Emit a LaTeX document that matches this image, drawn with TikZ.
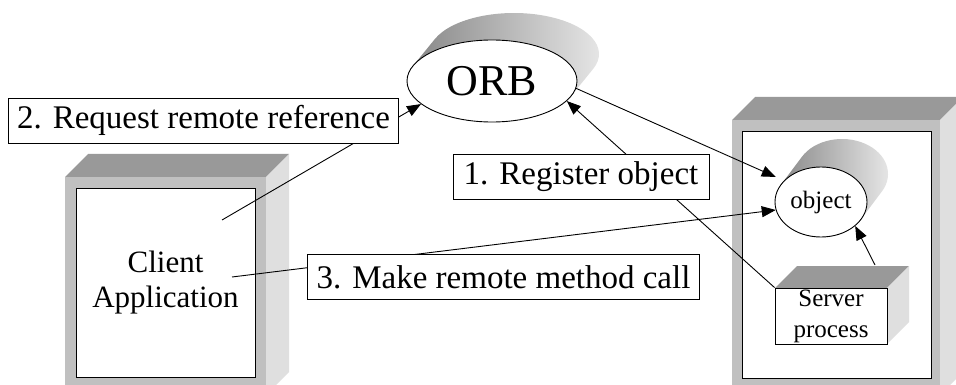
\documentclass[tikz,border=0pt]{standalone}
\usepackage{fontspec}
\setmainfont{Liberation Serif}
\usetikzlibrary{shapes.geometric,arrows.meta}
\tikzset{
	labelbox/.style={draw,fill=white,inner xsep=9pt,inner ysep=0pt,minimum height=45pt,font=\fontsize{33}{38}\selectfont},
	blob/.style={ellipse,draw,fill=white,inner sep=0pt},
	topface/.style={fill={rgb,255:red,153;green,153;blue,153}},
	sideface/.style={fill={rgb,255:red,223;green,223;blue,223}},
	frameface/.style={fill={rgb,255:red,192;green,192;blue,192}}
}
\newcommand{\block}[6]{% left, top, right, bottom, depth, front options
	\fill[#6] (#1,#2) rectangle (#3,#4);
	\fill[topface] (#1,#2) -- (#1+#5,#2+#5) -- (#3+#5,#2+#5) -- (#3,#2) -- cycle;
	\fill[sideface] (#3,#2) -- (#3+#5,#2+#5) -- (#3+#5,#4+#5) -- (#3,#4) -- cycle;
}
\newcommand{\cylshade}[5]{% centre, x radius, y radius, shift x, shift y
	\pgfmathsetmacro\tanga{atan(-(#3*#4)/(#2*#5))}
	\pgfmathsetmacro\tangb{\tanga+180}
	\pgfmathsetmacro\tangc{\tanga+360}
	\shade[left color=black!50,right color=black!8] ([shift={(#4,#5)}]#1) ++(\tanga:#2pt and #3pt)
		arc[start angle=\tanga,end angle=\tangb,x radius=#2pt,y radius=#3pt]
		-- ++(-#4,-#5)
		arc[start angle=\tangb,end angle=\tangc,x radius=#2pt,y radius=#3pt] -- cycle;
}

\begin{document}
\begin{tikzpicture}[x=1pt,y=1pt,line width=0.9pt,>={Triangle[length=14pt,width=11pt]}]
	\useasboundingbox (0,0) rectangle (956,-385);

	% machines
	\block{65}{-177}{266}{-395}{23}{frameface}
	\block{732}{-120}{940}{-395}{23}{frameface}
	\node[draw,fill=white,inner sep=0pt,minimum width=179pt,minimum height=189pt,align=center,font=\fontsize{31}{35}\selectfont] (client) at (165.5,-282.5) {Client\\Application};
	\node[draw,fill=white,inner sep=0pt,minimum width=189pt,minimum height=247pt] (host) at (836.5,-254.5) {};

	% orb and object
	\coordinate (orbc) at (492,-81);
	\coordinate (objc) at (821,-202);
	\cylshade{orbc}{85}{41}{22}{27}
	\cylshade{objc}{46}{35}{21}{28}
	\node[blob,minimum width=170pt,minimum height=82pt,font=\fontsize{44}{50}\selectfont] (orb) at (orbc) {ORB};
	\node[blob,minimum width=92pt,minimum height=70pt,font=\fontsize{25}{30}\selectfont] (obj) at (objc) {object};

	% server process
	\block{775}{-288}{887}{-344}{22}{fill=white}
	\node[draw,inner sep=0pt,minimum width=112pt,minimum height=56pt,align=center,font=\fontsize{25}{31}\selectfont] (srv) at (831,-316) {Server\\process};

	\coordinate (cl2) at (222,-220);
	\coordinate (cl3) at (232,-277);
	\coordinate (srvtop) at (875,-265);

	\draw[->] (cl2) -- (orb.198);
	\draw[->] (srv.north west) -- (orb.-15);
	\draw[->,shorten >=9pt] (orb.-5) -- (obj.150);
	\draw[->] (cl3) -- (obj.190);
	\draw[->] (srvtop) -- (obj.-35);

	\node[labelbox] (req) at (203.5,-120.5) {2. Request remote reference};
	\node[labelbox,minimum width=256pt] (reg) at (581,-176.5) {1. Register object};
	\node[labelbox] (call) at (503.5,-277) {3. Make remote method call};
\end{tikzpicture}
\end{document}
